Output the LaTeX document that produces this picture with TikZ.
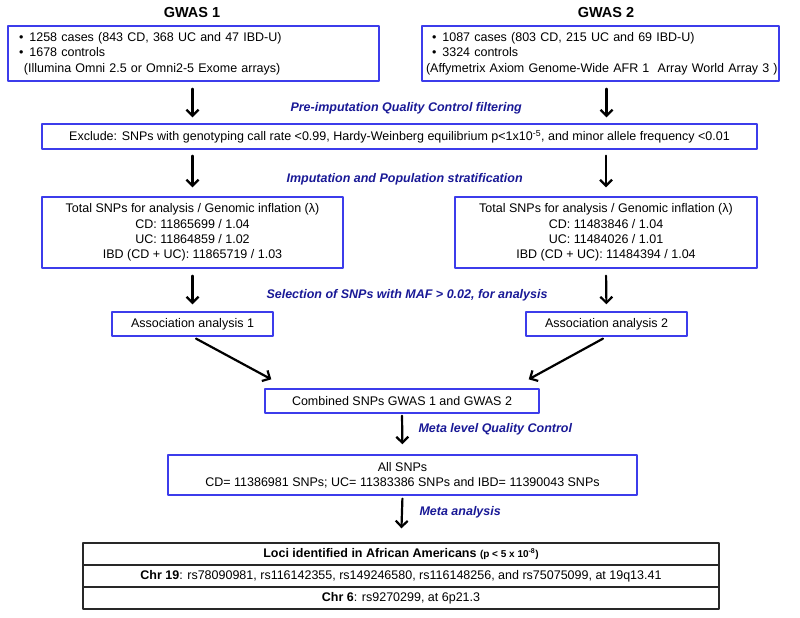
\documentclass[tikz,border=0pt]{standalone}
\usepackage{fontspec}
\setmainfont{Liberation Sans}
\usetikzlibrary{arrows.meta, calc}
\definecolor{boxblue}{RGB}{60,60,235}
\definecolor{stepblue}{RGB}{25,25,150}
\definecolor{tabgray}{RGB}{40,40,40}

\begin{document}
\begin{tikzpicture}[x=1pt, y=-1pt, >={Straight Barb[length=6pt,width=12pt]},
	line cap=round, line join=round, font=\fontsize{12.5}{15.3}\selectfont,
	infobox/.style={draw=boxblue, line width=1.4pt, align=center, inner sep=0pt},
	steplabel/.style={text=stepblue, font=\fontsize{12.5}{14}\selectfont\bfseries\itshape, anchor=west},
	flow/.style={->, line width=2.2pt},
	locirow/.style={draw=tabgray, line width=1.4pt, minimum width=636pt, minimum height=22pt, inner sep=0pt}]
\useasboundingbox (0,0) rectangle (800,618);
%========================
% Top: the two studies
%========================
\node[font=\fontsize{14.5}{16}\selectfont\bfseries] (title1) at (192,13) {GWAS 1};
\node[font=\fontsize{14.5}{16}\selectfont\bfseries] (title2) at (606,13) {GWAS 2};
\node[infobox, minimum width=371pt, minimum height=55pt, text width=349pt, align=left] (gwas1) at (193.5,53.5) {
	\textbullet\hspace{6pt}1258 cases (843 CD, 368 UC and 47 IBD-U)\\
	\textbullet\hspace{6pt}1678 controls\\
	\hspace*{5pt}(Illumina Omni 2.5 or Omni2-5 Exome arrays)};
\node[infobox, minimum width=357pt, minimum height=55pt, text width=357pt, align=left] (gwas2) at (600.5,53.5) {
	\hspace*{10pt}\textbullet\hspace{6pt}1087 cases (803 CD, 215 UC and 69 IBD-U)\\
	\hspace*{10pt}\textbullet\hspace{6pt}3324 controls\\
	\hspace*{4pt}\mbox{(Affymetrix Axiom Genome-Wide AFR 1\ \ Array World Array 3 )}};

% pre-imputation QC
\node[steplabel] (qclabel) at (287,108) {Pre-imputation Quality Control filtering};
\node[infobox, minimum width=715pt, minimum height=25pt] (excl) at (399.5,136.5) {
	Exclude: SNPs with genotyping call rate <0.99, Hardy-Weinberg equilibrium p<1x10\textsuperscript{-5}, and minor allele frequency <0.01};

%========================
% Middle: imputation per study
%========================
\node[steplabel] (implabel) at (283,179) {Imputation and Population stratification};
\node[infobox, minimum width=301pt, minimum height=71pt] (imp1) at (192.5,232.5) {
	Total SNPs for analysis / Genomic inflation (λ)\\
	CD: 11865699 / 1.04\\
	UC: 11864859 / 1.02\\
	IBD (CD + UC): 11865719 / 1.03};
\node[infobox, minimum width=302pt, minimum height=71pt] (imp2) at (606,232.5) {
	Total SNPs for analysis / Genomic inflation (λ)\\
	CD: 11483846 / 1.04\\
	UC: 11484026 / 1.01\\
	IBD (CD + UC): 11484394 / 1.04};

\node[steplabel] (maflabel) at (263,295) {Selection of SNPs with MAF > 0.02, for analysis};
\node[infobox, minimum width=161pt, minimum height=24pt] (assoc1) at (192.5,324) {Association analysis 1};
\node[infobox, minimum width=161pt, minimum height=24pt] (assoc2) at (606.5,324) {Association analysis 2};

%========================
% Bottom: meta analysis
%========================
\node[infobox, minimum width=274pt, minimum height=24pt] (comb) at (402,401) {Combined SNPs GWAS 1 and GWAS 2};
\node[steplabel] (metaqc) at (415,429) {Meta level Quality Control};
\node[infobox, minimum width=469pt, minimum height=40pt] (allsnp) at (402.5,475) {
	All SNPs\\
	CD= 11386981 SNPs; UC= 11383386 SNPs and IBD= 11390043 SNPs};
\node[steplabel] (metalabel) at (416,512) {Meta analysis};

% result table
\node[locirow] (loci) at (401,554) {\textbf{Loci identified in African Americans
	{\fontsize{10}{11}\selectfont(p < 5 x 10\textsuperscript{-8})}}};
\node[locirow] (chr19) at (401,576) {\textbf{Chr 19}: rs78090981, rs116142355, rs149246580, rs116148256, and rs75075099, at 19q13.41};
\node[locirow] (chr6) at (401,598) {\textbf{Chr 6}: rs9270299, at 6p21.3};

% arrows
\draw[flow, shorten <=7pt, shorten >=6pt] (assoc1.north |- gwas1.south) -- (assoc1.north |- excl.north);
\draw[flow, shorten <=7pt, shorten >=6pt] (assoc2.north |- gwas2.south) -- (assoc2.north |- excl.north);
\draw[flow, shorten <=6pt, shorten >=9pt] (imp1.north |- excl.south) -- (imp1.north);
\draw[flow, shorten <=6pt, shorten >=9pt] (imp2.north |- excl.south) -- (imp2.north);
\draw[flow, shorten <=7pt, shorten >=7pt] (imp1.south) -- (assoc1.north);
\draw[flow, shorten <=7pt, shorten >=7pt] (imp2.south) -- (assoc2.north);
\draw[flow, shorten <=4pt] (assoc1.south) -- ($(comb.north west)+(7,-9)$);
\draw[flow, shorten <=4pt] (assoc2.south) -- ($(comb.north east)+(-11,-9)$);
\draw[flow, shorten <=2pt, shorten >=10pt] (comb.south) -- (allsnp.north);
\draw[flow, shorten <=3pt, shorten >=14pt] (allsnp.south) -- (loci.north);
\end{tikzpicture}
\end{document}
